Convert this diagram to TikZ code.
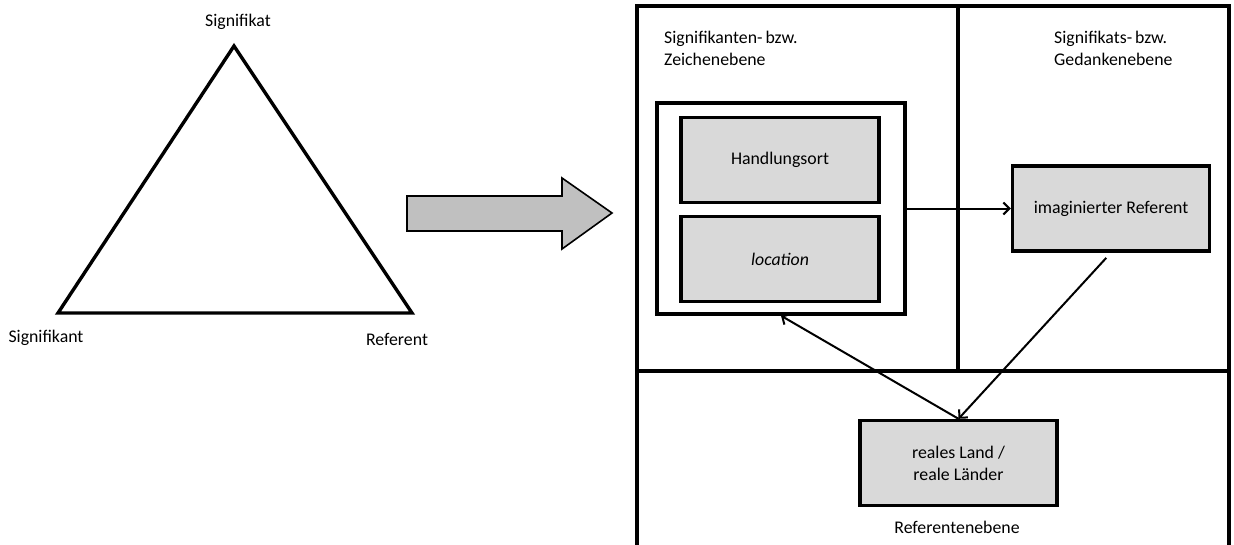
\documentclass[tikz,border=0pt]{standalone}
\usepackage{fontspec}
\setmainfont{Carlito}
\usetikzlibrary{arrows.meta}
\definecolor{boxgray}{HTML}{D9D9D9}
\definecolor{arrowgray}{HTML}{C0C0C0}
\begin{document}
\begin{tikzpicture}[x=1pt,y=-1pt,
  lbl/.style={font=\fontsize{17.8}{22}\selectfont, inner sep=0pt},
  frame/.style={line width=3.4pt},
  graybox/.style={draw, line width=3.4pt, fill=boxgray, minimum width=197pt, minimum height=85pt,
    font=\fontsize{17.8}{22}\selectfont, align=center, inner sep=0pt},
  conn/.style={line width=2pt, -{Straight Barb[length=6pt,width=12pt,line width=2pt]}}
]
\useasboundingbox (0,0) rectangle (1234,544);
\clip (0,0) rectangle (1234,544);

% semiotic triangle
\coordinate (top) at (234,46);
\coordinate (bl) at (58,313);
\coordinate (br) at (412,313);
\draw[line width=3.4pt, line join=miter] (top) -- (br) -- (bl) -- cycle;
\node[lbl] (tsig) at (238,22) {Signifikat};
\node[lbl] (tsign) at (46,338) {Signifikant};
\node[lbl] (tref) at (397,339) {Referent};

% block arrow
\draw[line width=1.6pt, fill=arrowgray, line join=miter]
  (407,196) -- (562,196) -- (562,178) -- (612,213) -- (562,249) -- (562,231) -- (407,231) -- cycle;

% panel frame
\draw[frame] (637,560) -- (637,6) -- (1229,6) -- (1229,560);
\draw[frame] (637,371) -- (1229,371);
\draw[frame] (958,6) -- (958,371);

% level captions
\node[lbl, align=left, anchor=north west] (capz) at (664,31)
  {Signifikanten-\,bzw.\\Zeichenebene};
\node[lbl, align=left, anchor=north west] (capg) at (1054,31)
  {Signifikats-\,bzw.\\Gedankenebene};
\node[lbl] (capr) at (957,527) {Referentenebene};

% sign level
\node[draw, line width=3.4pt, fill=white, minimum width=248pt, minimum height=211pt, inner sep=0pt]
  (inner) at (781,208.5) {};
\node[graybox, minimum width=198pt] (hand) at (780,160) {Handlungsort};
\node[graybox, minimum width=198pt] (loc) at (780,259) {\itshape location};

% concept level
\node[graybox] (imag) at (1111,208.5) {imaginierter Referent};

% referent level
\node[graybox] (real) at (958.5,463) {reales Land /\\reale Länder};

% relations
\draw[conn] (inner.east) -- (imag.west);
\draw[conn, shorten <=7pt] (imag.south) -- (real.north);
\draw[conn] (real.north) -- (inner.south);
\end{tikzpicture}
\end{document}
